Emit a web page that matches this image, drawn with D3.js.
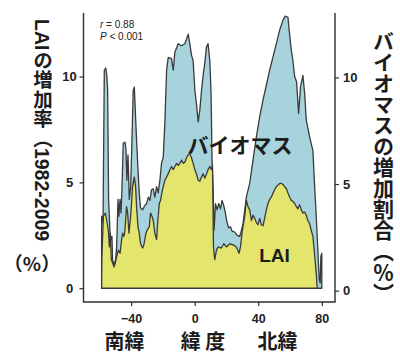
<!DOCTYPE html>
<html>
<head>
<meta charset="utf-8">
<script src="https://cdn.jsdelivr.net/npm/d3@7"></script>
<style>
  html, body { margin: 0; padding: 0; background: #fff; }
  svg { display: block; }
</style>
</head>
<body>
<svg id="chart" width="400" height="354"></svg>
<script>
// Latitudinal profile of biomass increase (%) and LAI increase rate (%), 1982-2009
const biomassLat = [-58.6, -58.6, -57.7, -56.9, -56.0, -55.4, -54.8, -54.2, -53.3, -52.7, -52.1, -51.7, -50.8, -49.8, -49.1, -48.3, -47.7, -47.0, -46.4, -45.8, -45.0, -43.9, -43.3, -42.7, -42.0, -41.2, -40.3, -39.5, -38.7, -38.0, -37.4, -36.6, -35.7, -34.9, -34.1, -32.8, -31.5, -30.3, -29.2, -28.2, -27.2, -26.1, -25.1, -24.0, -23.0, -21.9, -20.9, -19.8, -18.8, -17.7, -16.7, -14.6, -13.5, -12.5, -10.4, -8.3, -6.2, -4.1, -3.1, -2.0, -1.0, 0.1, 1.1, 2.2, 3.2, 4.3, 5.3, 6.3, 7.4, 8.4, 9.5, 10.3, 10.9, 11.6, 12.2, 13.1, 14.1, 15.1, 16.2, 17.2, 18.3, 19.3, 20.4, 21.4, 22.5, 23.5, 25.2, 26.8, 28.3, 29.3, 30.4, 31.5, 32.5, 34.6, 36.7, 38.8, 40.9, 43.0, 45.1, 47.2, 49.2, 51.4, 53.5, 55.5, 57.0, 58.7, 59.7, 60.8, 61.8, 62.9, 64.1, 65.4, 66.6, 68.1, 69.2, 70.2, 72.3, 74.4, 75.4, 76.5, 77.5, 78.4, 79.0, 79.4, 80.0, 80.0];
const biomassVal = [0, 3.4, 3.1, 10.3, 10.4, 10.1, 9.35, 4.2, 2.6, 2.3, 2.45, 1.35, 1.1, 1.35, 2.0, 4.2, 3.4, 4.2, 3.55, 4.65, 6.85, 6.9, 6.6, 5.1, 6.3, 4.2, 4.8, 7.0, 9.35, 9.5, 8.4, 7.0, 5.6, 4.5, 3.8, 3.7, 3.9, 4.0, 4.3, 4.15, 4.65, 4.7, 4.3, 4.8, 4.5, 5.1, 5.9, 6.2, 7.8, 10.3, 10.9, 10.85, 10.3, 11.15, 11.55, 11.45, 11.55, 12.0, 11.55, 11.0, 10.75, 9.35, 8.7, 7.85, 8.4, 9.35, 10.05, 10.6, 11.4, 11.55, 10.75, 9.2, 6.05, 4.65, 2.75, 4.0, 3.7, 4.0, 3.75, 4.15, 3.9, 3.55, 3.1, 2.85, 2.9, 2.7, 2.65, 2.5, 2.45, 2.7, 3.05, 3.7, 4.3, 4.95, 6.05, 7.15, 8.1, 8.9, 9.6, 10.3, 10.9, 11.55, 12.2, 12.65, 12.85, 12.8, 12.0, 11.25, 10.75, 10.0, 9.75, 8.25, 9.5, 10.05, 9.2, 7.95, 7.15, 6.5, 4.95, 3.4, 1.8, 0.4, 0.25, 1.5, 1.65, 0];

const laiLat = [-58.6, -58.4, -57.5, -56.2, -55.4, -54.4, -53.7, -53.1, -52.5, -51.7, -50.8, -50.0, -49.1, -48.1, -47.0, -46.0, -45.4, -44.5, -43.9, -42.9, -42.2, -41.4, -40.3, -39.1, -38.0, -37.2, -36.6, -35.7, -34.9, -34.1, -32.8, -32.0, -30.7, -29.9, -28.6, -27.8, -26.9, -26.1, -25.1, -24.0, -23.2, -22.3, -21.5, -20.7, -19.8, -18.8, -17.7, -16.7, -15.6, -14.6, -13.5, -12.5, -11.4, -10.4, -9.4, -8.3, -7.3, -6.2, -5.2, -4.1, -3.1, -2.0, -1.0, 0.1, 1.1, 2.2, 3.2, 4.3, 5.3, 6.3, 7.4, 8.4, 9.5, 10.5, 11.2, 11.8, 12.6, 13.7, 14.7, 16.8, 18.3, 20.0, 22.1, 24.2, 26.2, 27.9, 28.8, 30.0, 31.5, 32.5, 33.6, 34.6, 35.7, 36.7, 37.8, 38.8, 39.8, 40.9, 41.9, 43.0, 44.0, 45.1, 46.1, 47.2, 48.2, 49.3, 50.3, 51.4, 53.5, 54.5, 55.6, 56.6, 57.7, 58.7, 59.8, 60.8, 61.9, 62.9, 64.0, 65.0, 66.0, 67.1, 68.1, 69.2, 70.2, 71.2, 72.3, 73.3, 74.4, 75.4, 76.5, 77.1];
const laiVal = [0, 1.5, 3.4, 3.55, 3.2, 2.75, 1.95, 2.6, 1.35, 1.2, 1.0, 1.2, 1.5, 1.8, 1.65, 2.3, 2.6, 2.45, 2.75, 3.85, 3.55, 2.6, 3.4, 4.8, 5.25, 4.8, 3.85, 2.9, 2.6, 2.1, 1.9, 2.05, 2.6, 2.75, 2.9, 3.55, 3.4, 3.2, 2.6, 2.3, 3.2, 4.0, 4.15, 4.5, 4.8, 5.1, 5.25, 5.4, 5.6, 5.75, 5.6, 5.75, 5.9, 5.8, 5.9, 6.05, 5.9, 5.95, 6.15, 6.3, 6.35, 6.15, 5.9, 5.6, 5.4, 5.1, 5.05, 5.25, 5.4, 5.2, 5.4, 5.6, 5.75, 5.6, 5.8, 1.95, 1.35, 1.8, 1.95, 1.9, 2.1, 1.95, 2.1, 2.05, 1.95, 1.65, 1.95, 2.75, 3.4, 4.15, 3.85, 3.7, 3.2, 3.45, 3.3, 3.1, 3.0, 3.3, 3.0, 2.95, 3.3, 3.7, 4.0, 4.2, 4.3, 4.5, 4.65, 4.8, 4.95, 4.95, 4.9, 4.8, 4.7, 4.5, 4.3, 4.15, 4.1, 4.0, 3.85, 3.75, 3.95, 3.7, 3.55, 3.6, 3.45, 3.2, 3.05, 2.75, 2.45, 1.65, 0.7, 0];

const xTicks = [-40, 0, 40, 80];
const yTicks = [0, 5, 10];
const zoneNames = ["南緯", "緯 度", "北緯"];
const seriesNames = ["バイオマス", "LAI"];
const statLines = [["r", " = 0.88"], ["P", " < 0.001"]];
const leftTitle = "LAIの増加率（1982-2009";
const leftUnit = "（%）";
const rightTitle = "バイオマスの増加割合（％）";

const svg = d3.select("#chart");
const ink = "#2e2e2e";
const latin = "'Liberation Sans', Arial, 'Noto Sans CJK JP', sans-serif";
const cjk = "'Noto Sans CJK JP', 'Liberation Sans', sans-serif";

const box = { left: 83.5, right: 335, top: 13, bottom: 302 };

const x = d3.scaleLinear().domain([-70, 88.3]).range([box.left, box.right]);
const y = d3.scaleLinear().domain([-0.65, 13]).range([box.bottom, box.top]);
const yRight = d3.scaleLinear().domain([-0.65, 13]).range([304.5, 13.5]);

const area = d3.area()
  .x(d => x(d[0]))
  .y0(y(0))
  .y1(d => y(d[1]))
  .curve(d3.curveLinear);

// biomass band underneath, LAI band on top
svg.append("path")
  .datum(d3.zip(biomassLat, biomassVal))
  .attr("d", area)
  .attr("fill", "#a7d3dd")
  .attr("stroke", "#3a3a3a")
  .attr("stroke-width", 1.3)
  .attr("stroke-linejoin", "round");

svg.append("path")
  .datum(d3.zip(laiLat, laiVal))
  .attr("d", area)
  .attr("fill", "#e4e56c")
  .attr("stroke", "#3a3a3a")
  .attr("stroke-width", 1.3)
  .attr("stroke-linejoin", "round");

// frame: left, bottom, right
svg.append("path")
  .attr("d", `M${box.left},${box.top}V${box.bottom}H${box.right}V${box.top}`)
  .attr("fill", "none")
  .attr("stroke", ink)
  .attr("stroke-width", 1.4);

const styleAxis = size => g => {
  g.select(".domain").remove();
  g.selectAll(".tick line").attr("stroke", ink).attr("stroke-width", 1.2);
  g.selectAll(".tick text")
    .attr("fill", "#222")
    .style("font-family", latin)
    .style("font-weight", "bold")
    .style("font-size", size);
};

svg.append("g")
  .attr("transform", `translate(0,${box.bottom})`)
  .call(d3.axisBottom(x).tickValues(xTicks).tickSize(4).tickPadding(8).tickFormat(d3.format("d")))
  .call(styleAxis("12.5px"));

svg.append("g")
  .attr("transform", `translate(${box.left},0)`)
  .call(d3.axisLeft(y).tickValues(yTicks).tickSize(4).tickPadding(3).tickFormat(d3.format("d")))
  .call(styleAxis("13px"))
  .call(g => g.selectAll(".tick text").attr("text-anchor", "middle").attr("x", -14));

svg.append("g")
  .attr("transform", `translate(${box.right},0)`)
  .call(d3.axisRight(yRight).tickValues(yTicks).tickSize(4).tickPadding(4).tickFormat(d3.format("d")))
  .call(styleAxis("13px"));

// correlation note
statLines.forEach((pair, i) => {
  const t = svg.append("text")
    .attr("x", 100).attr("y", 28 + i * 11.6)
    .style("font-family", latin)
    .style("font-size", "10px")
    .attr("fill", "#222");
  t.append("tspan").style("font-style", "italic").text(pair[0]);
  t.append("tspan").text(pair[1]);
});

// series labels
svg.append("text")
  .attr("x", 240).attr("y", 144)
  .attr("text-anchor", "middle")
  .attr("dominant-baseline", "central")
  .style("font-family", cjk)
  .style("font-weight", "bold")
  .style("font-size", "21px")
  .attr("fill", "#1c1c1c")
  .text(seriesNames[0]);

svg.append("text")
  .attr("x", 274.5).attr("y", 262)
  .attr("text-anchor", "middle")
  .style("font-family", latin)
  .style("font-weight", "bold")
  .style("font-size", "19px")
  .attr("fill", "#1c1c1c")
  .text(seriesNames[1]);

// latitude zone captions
const zoneX = [124.5, 203, 277.5];
zoneNames.forEach((name, i) => {
  svg.append("text")
    .attr("x", zoneX[i]).attr("y", 340.5)
    .attr("text-anchor", "middle")
    .attr("dominant-baseline", "central")
    .style("font-family", cjk)
    .style("font-weight", "bold")
    .style("font-size", "20px")
    .attr("fill", "#1c1c1c")
    .text(name);
});

// axis titles (vertical Japanese writing)
svg.append("text")
  .attr("x", 41.5).attr("y", 19)
  .attr("writing-mode", "vertical-rl")
  .style("text-orientation", "mixed")
  .style("font-family", latin)
  .style("font-weight", "bold")
  .style("font-size", "19.5px")
  .attr("fill", "#1c1c1c")
  .text(leftTitle);

svg.append("text")
  .attr("x", 32).attr("y", 262)
  .attr("text-anchor", "middle")
  .attr("dominant-baseline", "central")
  .style("font-family", cjk)
  .style("font-weight", "bold")
  .style("font-size", "19px")
  .attr("fill", "#1c1c1c")
  .text(leftUnit);

svg.append("text")
  .attr("x", 383.5).attr("y", 30.5)
  .attr("writing-mode", "vertical-rl")
  .style("text-orientation", "mixed")
  .style("font-family", cjk)
  .style("font-weight", "bold")
  .style("font-size", "21px")
  .attr("fill", "#1c1c1c")
  .text(rightTitle);
</script>
</body>
</html>
